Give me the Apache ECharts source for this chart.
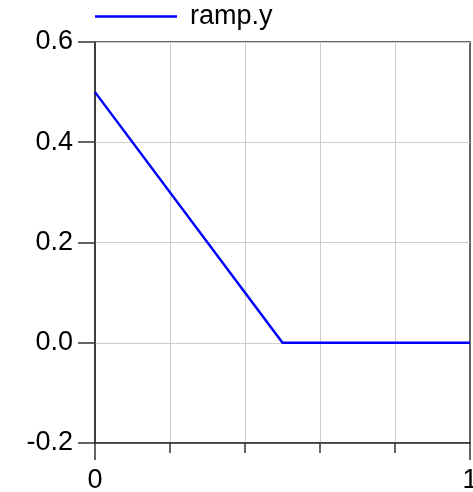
<!DOCTYPE html>
<html>
<head>
<meta charset="utf-8">
<script src="https://cdn.jsdelivr.net/npm/echarts@6/dist/echarts.min.js"></script>
<style>html,body{margin:0;padding:0;background:#fff;overflow:hidden}#c{width:100vw;height:100vh}</style>
</head>
<body>
<div id="c"></div>
<script>
var seriesName = 'ramp.y';
var xValues = [0, 0.5, 1];
var yValues = [0.5, 0, 0];
var xTickLabels = ['0', '1'];
var yTickLabels = ['-0.2', '0.0', '0.2', '0.4', '0.6'];

var chart = echarts.init(document.getElementById('c'));
var font = 'Liberation Sans, Arial, sans-serif';
chart.setOption({
  animation: false,
  backgroundColor: '#fff',
  legend: {
    left: 95, top: 3, padding: 0,
    itemWidth: 82, itemHeight: 2.5,
    icon: 'rect',
    data: [{ name: seriesName, icon: 'rect' }],
    itemStyle: { color: '#0000ff', borderWidth: 0 },
    textStyle: { fontFamily: font, fontSize: 27, color: '#000', padding: [0, 0, 0, 8] }
  },
  grid: {
    left: 95, right: 3, top: 42, bottom: 49,
    outerBoundsMode: 'none',
    show: true, borderColor: '#333', borderWidth: 1.5, containLabel: false
  },
  xAxis: {
    type: 'value', min: 0, max: 1, interval: 1,
    axisLine: { show: true, onZero: false, lineStyle: { color: '#333', width: 1.5 } },
    axisTick: { show: true, length: 17, lineStyle: { color: '#333', width: 1.5 } },
    minorTick: { show: true, splitNumber: 5, length: 10, lineStyle: { color: '#333', width: 1.5 } },
    splitLine: { show: false },
    minorSplitLine: { show: true, lineStyle: { color: '#cccccc', width: 1 } },
    axisLabel: {
      margin: 24, fontFamily: font, fontSize: 27, color: '#000',
      formatter: function (v) { return v === 0 ? xTickLabels[0] : (v === 1 ? xTickLabels[1] : ''); }
    }
  },
  yAxis: {
    type: 'value', min: -0.2, max: 0.6, interval: 0.2,
    axisLine: { show: true, onZero: false, lineStyle: { color: '#333', width: 1.5 } },
    axisTick: { show: true, length: 17, lineStyle: { color: '#333', width: 1.5 } },
    splitLine: { show: true, lineStyle: { color: '#cccccc', width: 1 } },
    axisLabel: {
      margin: 22, fontFamily: font, fontSize: 27, color: '#000',
      formatter: function (v) {
        var i = Math.round((v + 0.2) / 0.2);
        return yTickLabels[i];
      }
    }
  },
  series: [{
    name: seriesName, type: 'line',
    data: xValues.map(function (x, i) { return [x, yValues[i]]; }),
    symbol: 'none', showSymbol: false,
    lineStyle: { color: '#0000ff', width: 2.5 },
    itemStyle: { color: '#0000ff' }
  }]
});
</script>
</body>
</html>
